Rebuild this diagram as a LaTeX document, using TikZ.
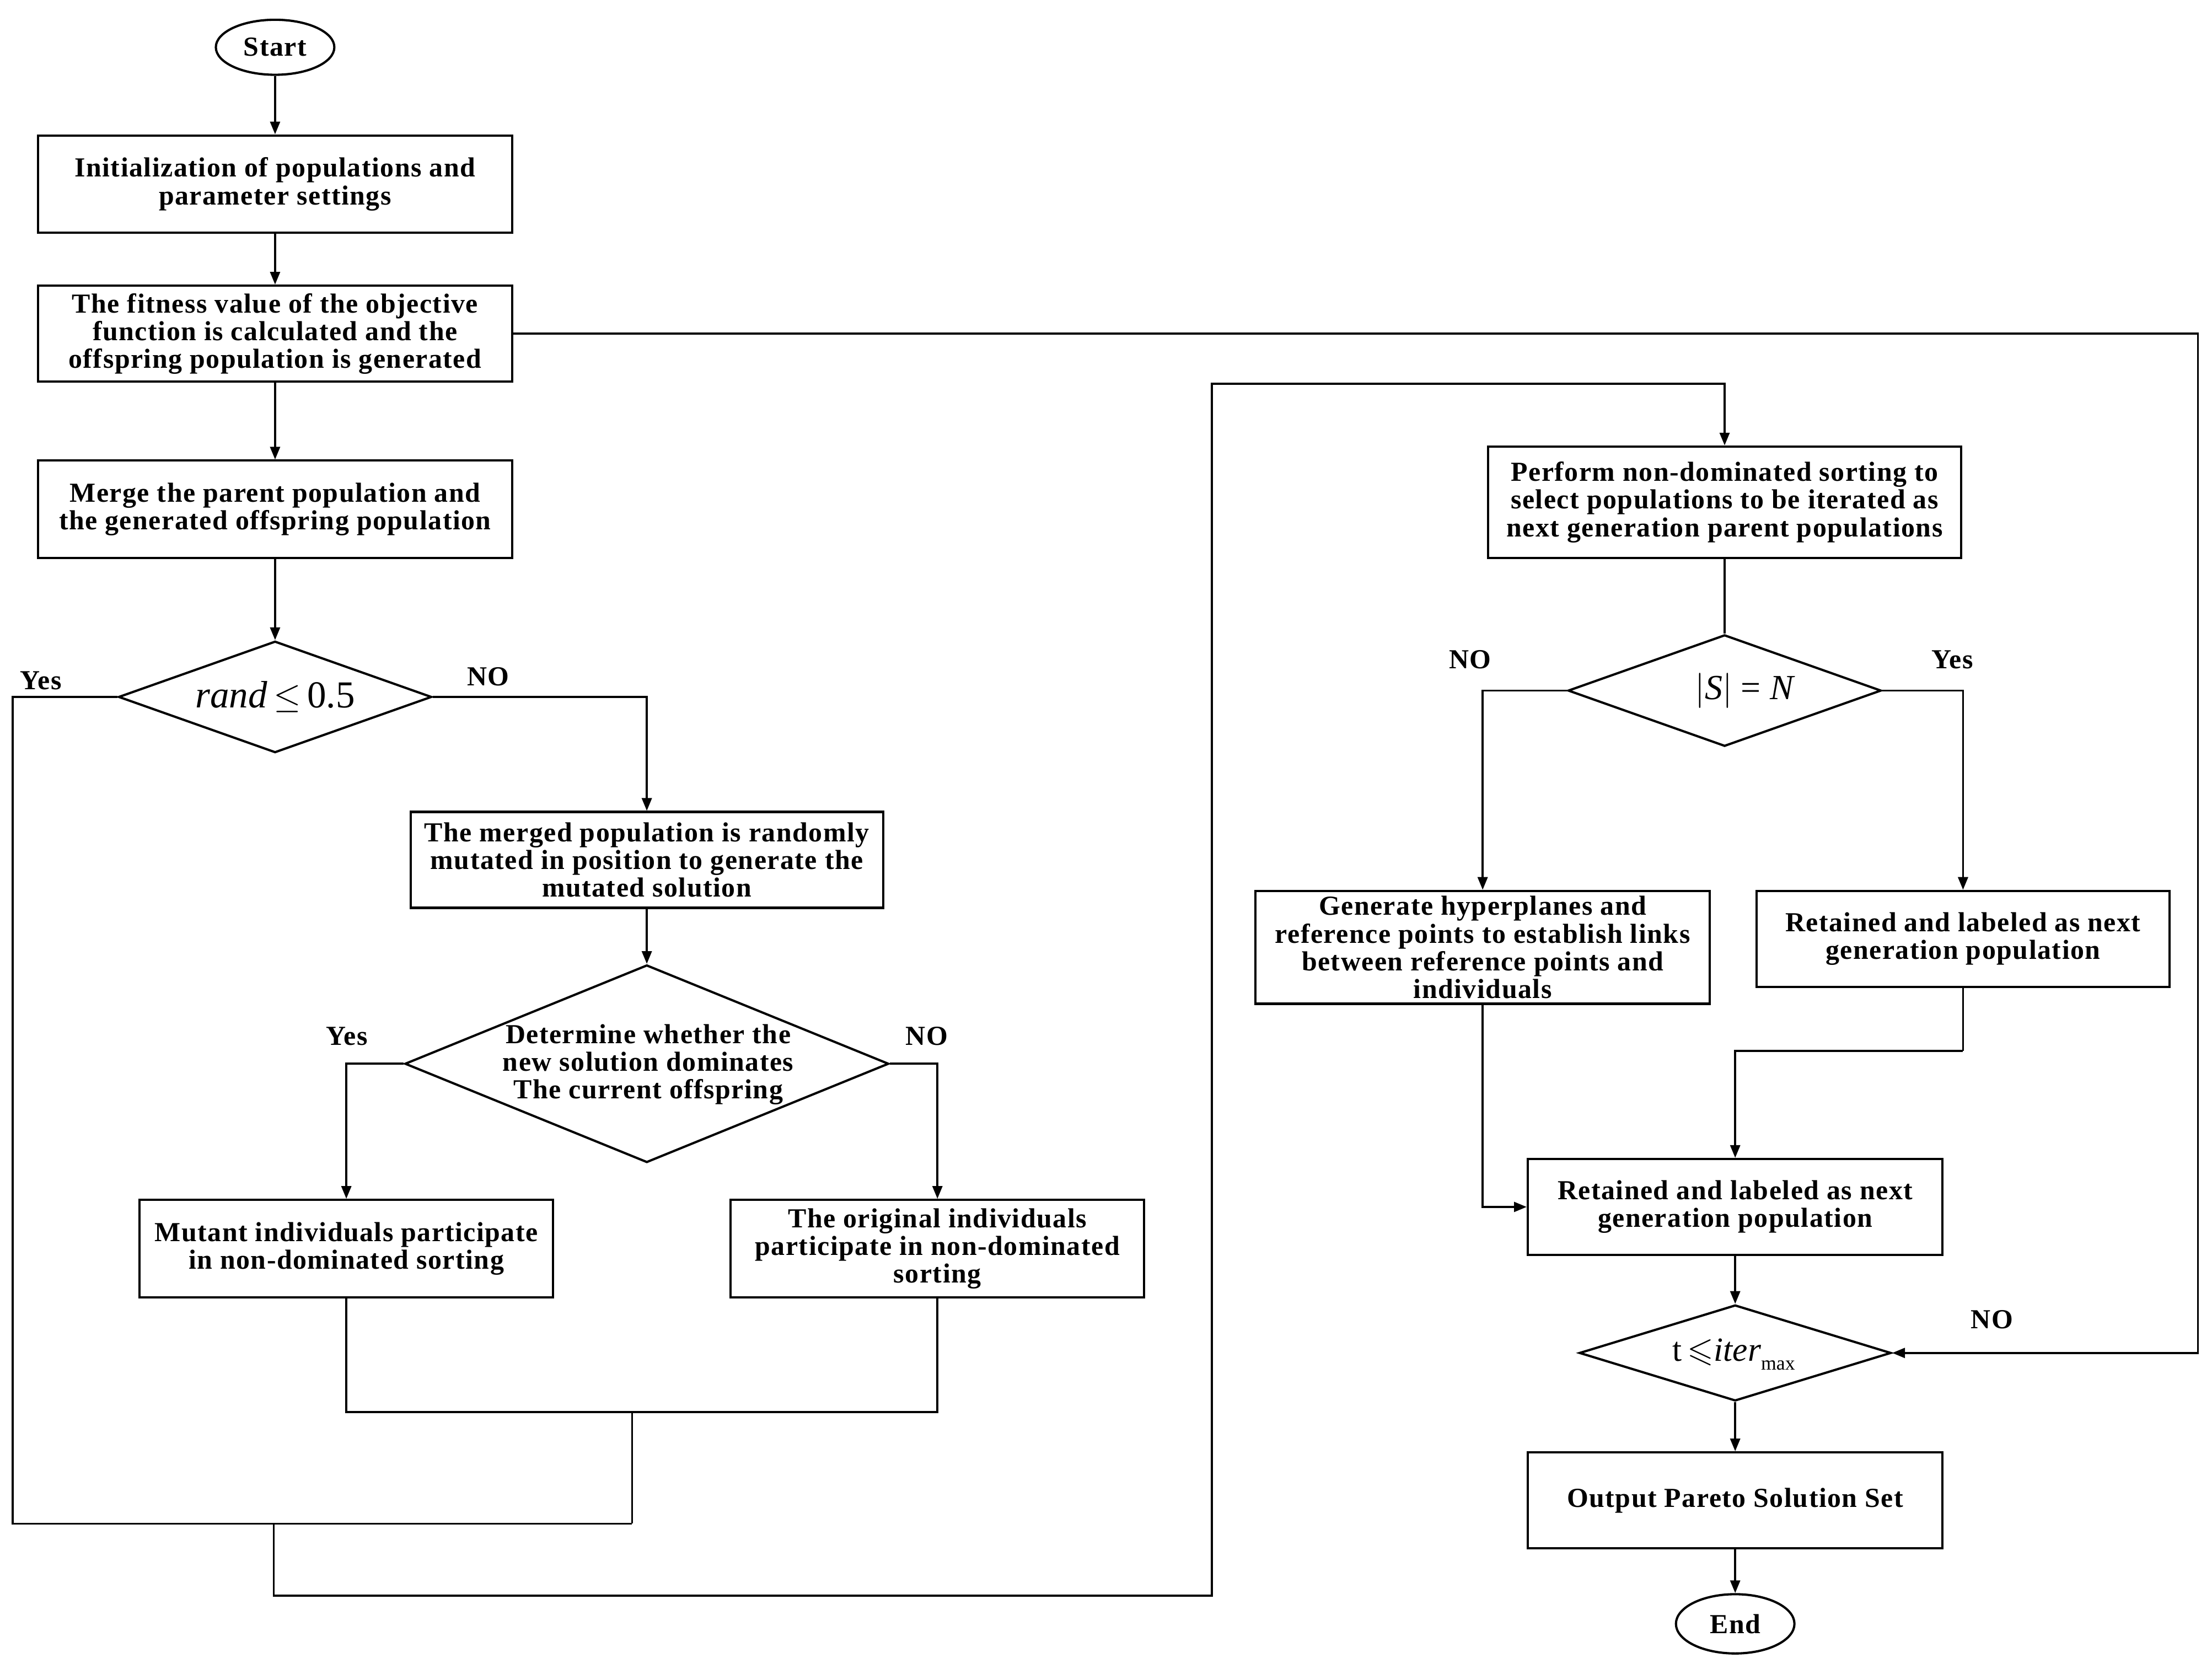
\documentclass[tikz,border=0pt]{standalone}
\usepackage{fontspec}
\usepackage{amssymb}
\setmainfont{Liberation Serif}
\newfontfamily\boxfont[LetterSpace=3]{Liberation Serif}
\usetikzlibrary{shapes.geometric,arrows.meta}
\begin{document}
\begin{tikzpicture}[x=1pt,y=-1pt,
  box/.style={draw, line width=1.6pt, rectangle, inner sep=0pt, align=center,
    font={\boxfont\bfseries\fontsize{19.5}{19.6}\selectfont}},
  term/.style={draw, line width=1.6pt, ellipse, inner sep=0pt,
    font={\boxfont\bfseries\fontsize{19.5}{19.6}\selectfont}},
  dia/.style={draw, line width=1.6pt, diamond, inner sep=0pt},
  dtext/.style={inner sep=0pt, align=center,
    font={\boxfont\bfseries\fontsize{19.5}{19.6}\selectfont}},
  lab/.style={inner sep=0pt, font={\boxfont\bfseries\fontsize{19.5}{19.6}\selectfont}},
  ln/.style={line width=1.4pt},
  arr/.style={line width=1.4pt, -{Triangle[length=9pt,width=7pt]}}
]
\useasboundingbox (0,0) rectangle (1568,1183);

% left column
\node[term, minimum width=84pt, minimum height=39pt] (start) at (195,33.5) {Start};
\node[box, minimum width=336pt, minimum height=69pt] (b1) at (195,130.5)
  {Initialization of populations and\\parameter settings};
\node[box, minimum width=336pt, minimum height=68pt] (b2) at (195,236.5)
  {The fitness value of the objective\\function is calculated and the\\offspring population is generated};
\node[box, minimum width=336pt, minimum height=69pt] (b3) at (195,361)
  {Merge the parent population and\\the generated offspring population};
\node[dia, minimum width=222pt, minimum height=79pt] (d1) at (195,494) {};
\node[inner sep=0pt, font={\fontsize{27}{27}\selectfont}] (d1t) at (d1.center)
  {\textit{rand}\,$\leq$\,0.5};

\node[box, minimum width=335pt, minimum height=68pt] (b4) at (458.5,609.5)
  {The merged population is randomly\\mutated in position to generate the\\mutated solution};
\node[dia, minimum width=343pt, minimum height=140pt] (d2) at (458.5,754) {};
\node[dtext] (d2t) at (459.5,754.5)
  {Determine whether the\\new solution dominates\\The current offspring};
\node[box, minimum width=293pt, minimum height=69pt] (b5) at (245.5,885)
  {Mutant individuals participate\\in non-dominated sorting};
\node[box, minimum width=293pt, minimum height=69pt] (b6) at (664.5,885)
  {The original individuals\\participate in non-dominated\\sorting};

% right column
\node[box, minimum width=335pt, minimum height=79pt] (b7) at (1222.5,356)
  {Perform non-dominated sorting to\\select populations to be iterated as\\next generation parent populations};
\node[dia, minimum width=222pt, minimum height=79pt] (d3) at (1222.5,489.5) {};
\node[inner sep=0pt, font={\fontsize{25}{25}\selectfont}] (d3t) at (1237,489.5)
  {$\bigl|$\textit{S}$\bigr|$ = \textit{N}};
\node[box, minimum width=322pt, minimum height=80pt] (b8) at (1051,671.5)
  {Generate hyperplanes and\\reference points to establish links\\between reference points and\\individuals};
\node[box, minimum width=293pt, minimum height=68pt] (b9) at (1391.5,665.5)
  {Retained and labeled as next\\generation population};
\node[box, minimum width=294pt, minimum height=68pt] (b10) at (1230,855.5)
  {Retained and labeled as next\\generation population};
\node[dia, minimum width=221pt, minimum height=68pt] (d4) at (1230,959) {};
\node[inner sep=0pt, font={\fontsize{24}{24}\selectfont}] (d4t) at (1229,960)
  {t\,$\leqslant$\textit{iter}\raisebox{-6pt}{\fontsize{14}{14}\selectfont max}};
\node[box, minimum width=294pt, minimum height=68pt] (b11) at (1230,1063.5)
  {Output Pareto Solution Set};
\node[term, minimum width=84pt, minimum height=42pt] (end) at (1230,1151) {End};

% labels
\node[lab] (l1) at (29,482.5) {Yes};
\node[lab] (l2) at (346,479.5) {NO};
\node[lab] (l3) at (246,734.5) {Yes};
\node[lab] (l4) at (657,734.5) {NO};
\node[lab] (l5) at (1042,467.5) {NO};
\node[lab] (l6) at (1384,467.5) {Yes};
\node[lab] (l7) at (1412,935.5) {NO};

% coordinates
\coordinate (c1) at (9,1080);
\coordinate (c2) at (448,1080);
\coordinate (c3) at (448,1001);
\coordinate (j1) at (194,1080);
\coordinate (j2) at (859,1131);
\coordinate (j3) at (859,272);
\coordinate (m1) at (1391.5,745);
\coordinate (r1) at (1558,236.5);

% connectors
\draw[arr] (start) -- (b1);
\draw[arr] (b1) -- (b2);
\draw[arr] (b2) -- (b3);
\draw[arr] (b3) -- (d1.north);
\draw[ln] (d1.west) -| (c1) -- (c2);
\draw[arr] (d1.east) -| (b4.north);
\draw[arr] (b4) -- (d2.north);
\draw[arr] (d2.west) -| (b5.north);
\draw[arr] (d2.east) -| (b6.north);
\draw[ln] (b5.south) |- (c3) -| (b6.south);
\draw[ln] (c3) -- (c2);
\draw[arr] (j1) |- (j2) -- (j3) -| (b7.north);
\draw[ln] (b7.south) -- (d3.north);
\draw[arr] (d3.west) -| (b8.north);
\draw[arr] (d3.east) -| (b9.north);
\draw[ln] (b9.south) -- (m1);
\draw[arr] (m1) -| (b10.north);
\draw[arr] (b8.south) |- (b10.west);
\draw[arr] (b10) -- (d4.north);
\draw[arr] (b2.east) -- (r1) |- (d4.east);
\draw[arr] (d4.south) -- (b11.north);
\draw[arr] (b11) -- (end);
\end{tikzpicture}
\end{document}
